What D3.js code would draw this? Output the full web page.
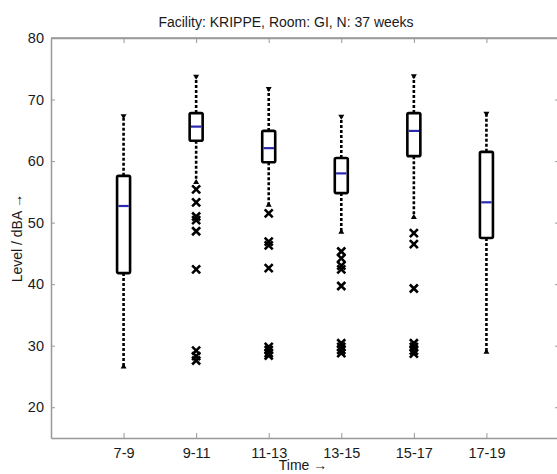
<!DOCTYPE html>
<html><head><meta charset="utf-8">
<script src="https://cdn.jsdelivr.net/npm/d3@7"></script>
<style>body{margin:0;background:#fff}svg{display:block}</style>
</head><body>
<svg id="c" width="557" height="474"></svg>
<script>
const categories = ["7-9","9-11","11-13","13-15","15-17","17-19"];
const whiskerHigh = [67.3, 73.7, 71.7, 67.2, 73.8, 67.7];
const q3Values = [57.6, 67.8, 64.9, 60.5, 67.8, 61.5];
const medianValues = [52.7, 65.6, 62.1, 58.0, 64.9, 53.3];
const q1Values = [41.8, 63.3, 59.8, 54.8, 60.8, 47.5];
const whiskerLow = [26.6, 56.6, 52.9, 48.5, 50.9, 29.0];
const outliers = [
  [],
  [55.4, 53.3, 51.0, 50.4, 48.6, 42.4, 29.2, 28.3, 27.6],
  [51.5, 46.9, 46.3, 42.6, 29.8, 29.3, 28.8, 28.4],
  [45.3, 44.2, 43.0, 42.4, 39.7, 30.4, 29.8, 29.3, 28.8],
  [48.3, 46.5, 39.3, 30.4, 29.8, 29.2, 28.7],
  []
];
const yTicks = [20, 30, 40, 50, 60, 70, 80];

const svg = d3.select("#c");
const L = 51, R = 559, T = 38, B = 438;
const x = d3.scalePoint().domain(categories).range([L, R]).padding(1);
const y = d3.scaleLinear().domain([15, 80]).range([B, T]);
const font = "Liberation Sans, Arial, sans-serif";
const axisColor = "#999";
const textColor = "#1a1a1a";

// frame
svg.append("line").attr("x1", L).attr("x2", R).attr("y1", T).attr("y2", T).attr("stroke", axisColor).attr("stroke-width", 1.5);
svg.append("line").attr("x1", R).attr("x2", R).attr("y1", T).attr("y2", B).attr("stroke", axisColor).attr("stroke-width", 1.5);

const gx = svg.append("g").attr("transform", `translate(0,${B})`)
  .call(d3.axisBottom(x).tickSizeInner(-5).tickSizeOuter(0).tickPadding(10));
const gxt = svg.append("g").attr("transform", `translate(0,${T})`)
  .call(d3.axisTop(x).tickSizeInner(-5).tickSizeOuter(0).tickFormat(""));
const gy = svg.append("g").attr("transform", `translate(${L},0)`)
  .call(d3.axisLeft(y).tickValues(yTicks).tickSizeInner(-4).tickSizeOuter(0).tickPadding(7));
const gyr = svg.append("g").attr("transform", `translate(${R},0)`)
  .call(d3.axisRight(y).tickValues(yTicks).tickSizeInner(-4).tickSizeOuter(0).tickFormat(""));
[gx, gxt, gy, gyr].forEach(g => {
  g.select(".domain").attr("stroke", axisColor).attr("stroke-width", 1.5);
  g.selectAll(".tick line").attr("stroke", axisColor);
  g.selectAll("text").attr("fill", textColor).style("font-family", font).style("font-size", "14.5px");
});

const boxW = 13;
const data = categories.map((c, i) => ({c, hi: whiskerHigh[i], q3: q3Values[i], med: medianValues[i], q1: q1Values[i], lo: whiskerLow[i], out: outliers[i]}));
const g = svg.selectAll("g.box").data(data).join("g").attr("class", "box");

// whiskers
g.append("line").attr("x1", d => x(d.c)).attr("x2", d => x(d.c))
  .attr("y1", d => y(d.q3)).attr("y2", d => y(d.hi))
  .attr("stroke", "#000").attr("stroke-width", 2.6).attr("stroke-dasharray", "3,2");
g.append("line").attr("x1", d => x(d.c)).attr("x2", d => x(d.c))
  .attr("y1", d => y(d.q1)).attr("y2", d => y(d.lo))
  .attr("stroke", "#000").attr("stroke-width", 2.6).attr("stroke-dasharray", "3,2");
// whisker end caps (small triangles)
g.append("path").attr("d", d => { const cx = x(d.c), cy = y(d.hi); return `M${cx-3},${cy-2}L${cx+3},${cy-2}L${cx},${cy+3}Z`; }).attr("fill", "#000");
g.append("path").attr("d", d => { const cx = x(d.c), cy = y(d.lo); return `M${cx-3},${cy+2}L${cx+3},${cy+2}L${cx},${cy-3}Z`; }).attr("fill", "#000");
// box
g.append("rect").attr("x", d => x(d.c) - boxW/2).attr("width", boxW)
  .attr("y", d => y(d.q3)).attr("height", d => y(d.q1) - y(d.q3))
  .attr("rx", 1.5).attr("fill", "#fff").attr("stroke", "#000").attr("stroke-width", 2.6);
// median
g.append("line").attr("x1", d => x(d.c) - boxW/2 + 1.3).attr("x2", d => x(d.c) + boxW/2 - 1.3)
  .attr("y1", d => y(d.med)).attr("y2", d => y(d.med))
  .attr("stroke", "#2a2ab0").attr("stroke-width", 2.2);
// outliers
g.each(function(d) {
  const s = 4;
  d3.select(this).selectAll("path.o").data(d.out).join("path").attr("class", "o")
    .attr("d", v => { const cx = x(d.c), cy = y(v); return `M${cx-s},${cy-s}L${cx+s},${cy+s}M${cx-s},${cy+s}L${cx+s},${cy-s}`; })
    .attr("stroke", "#000").attr("stroke-width", 2.6).attr("fill", "none");
});

// title and labels
svg.append("text").attr("x", 286).attr("y", 27).attr("text-anchor", "middle")
  .style("font-family", font).style("font-size", "14px").attr("fill", textColor)
  .text("Facility: KRIPPE, Room: GI, N: 37 weeks");
svg.append("text").attr("transform", "translate(22,238) rotate(-90)").attr("text-anchor", "middle")
  .style("font-family", font).style("font-size", "14px").attr("fill", textColor)
  .text("Level / dBA \u2192");
svg.append("text").attr("x", 303).attr("y", 470).attr("text-anchor", "middle")
  .style("font-family", font).style("font-size", "14px").attr("fill", textColor)
  .text("Time  \u2192");
</script>
</body></html>
